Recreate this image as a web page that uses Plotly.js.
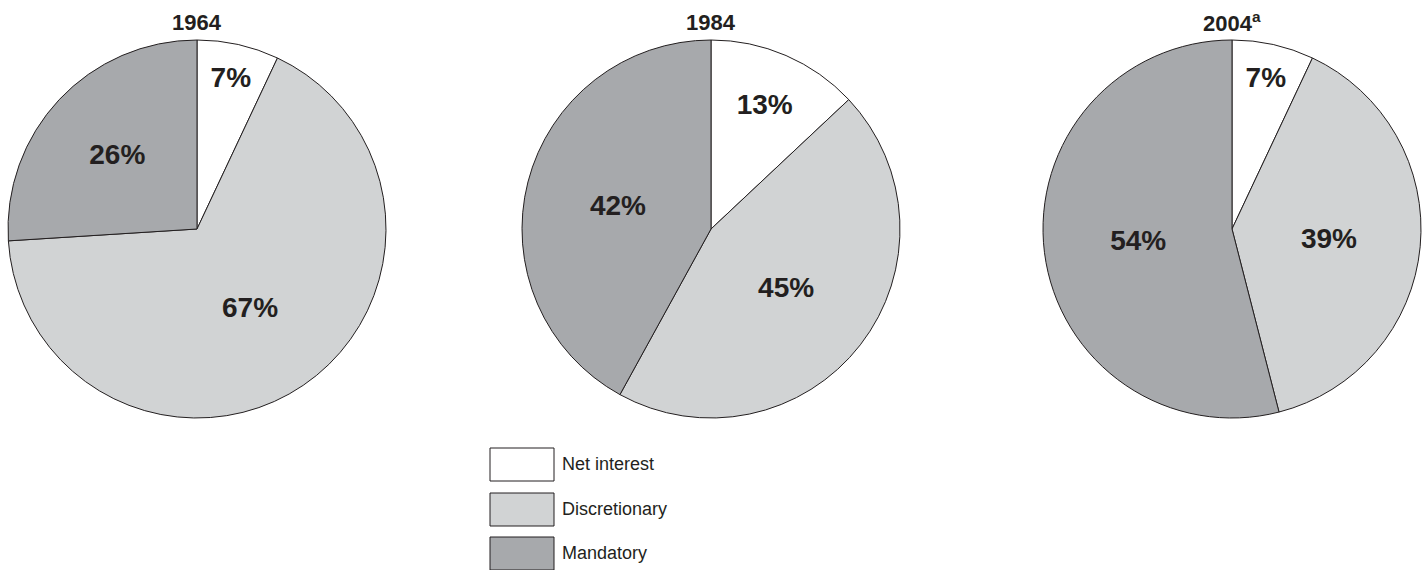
<!DOCTYPE html>
<html>
<head>
<meta charset="utf-8">
<script src="https://cdn.plot.ly/plotly-3.0.1.min.js"></script>
<style>html,body{margin:0;padding:0;background:#fff;}#chart{width:1426px;height:570px;}</style>
</head>
<body>
<div id="chart"></div>
<script>
const categories = ["Net interest", "Discretionary", "Mandatory"];
const years = ["1964", "1984", "2004<sup>a</sup>"];
const values1964 = [7, 67, 26];
const values1984 = [13, 45, 42];
const values2004 = [7, 39, 54];
const sliceColors = ["#ffffff", "#d1d3d4", "#a7a9ac"];

const allValues = [values1964, values1984, values2004];
const domainsX = [[8/1426, 386/1426], [522/1426, 900/1426], [1043/1426, 1421/1426]];
const domainY = [1 - 418/570, 1 - 40/570];
const font = "Liberation Sans, Arial, sans-serif";
const ink = "#231f20";

const traces = allValues.map((vals, i) => ({
  type: "pie",
  labels: categories,
  values: vals,
  sort: false,
  direction: "clockwise",
  rotation: 0,
  domain: {x: domainsX[i], y: domainY},
  marker: {colors: sliceColors, line: {color: ink, width: 1}},
  texttemplate: "%{value}%",
  textposition: "inside",
  insidetextorientation: "horizontal",
  textfont: {family: font, size: 28, color: ink, weight: "bold"},
  hoverinfo: "none",
  showlegend: false
}));

const annotations = years.map((y, i) => ({
  xref: "paper", yref: "paper",
  x: (domainsX[i][0] + domainsX[i][1]) / 2, y: 1 - 22/570,
  text: "<b>" + y + "</b>", showarrow: false,
  font: {family: font, size: 22, color: ink},
  xanchor: "center", yanchor: "middle"
}));

const shapes = [];
const boxTops = [448, 493, 537];
categories.forEach((c, i) => {
  shapes.push({type: "rect", xref: "paper", yref: "paper",
    x0: 490/1426, x1: 554/1426, y0: 1 - (boxTops[i] + 33)/570, y1: 1 - boxTops[i]/570,
    fillcolor: sliceColors[i], line: {color: ink, width: 1}});
  annotations.push({xref: "paper", yref: "paper",
    x: 560/1426, y: 1 - (boxTops[i] + 16)/570,
    text: c, showarrow: false, xanchor: "left", yanchor: "middle",
    font: {family: font, size: 18, color: ink}});
});

Plotly.newPlot("chart", traces, {
  width: 1426, height: 570,
  margin: {l: 0, r: 0, t: 0, b: 0},
  paper_bgcolor: "#fff",
  showlegend: false,
  annotations: annotations,
  shapes: shapes
}, {displayModeBar: false, staticPlot: true});
</script>
</body>
</html>
